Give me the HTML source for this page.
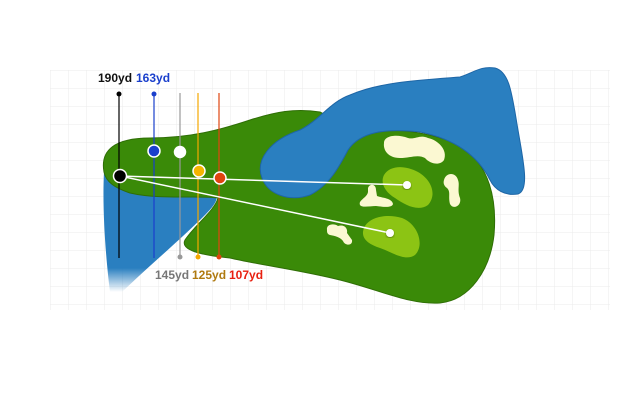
<!DOCTYPE html>
<html><head><style>body{margin:0;background:#fff}svg{display:block}</style></head><body>
<svg width="640" height="400" viewBox="0 0 640 400" xmlns="http://www.w3.org/2000/svg">
<defs>
<pattern id="g" width="18" height="18" patternUnits="userSpaceOnUse" x="50" y="70"><path d="M0 0H18M0 0V18" stroke="#e6e6e6" stroke-width="1" fill="none"/></pattern>
<linearGradient id="wf" x1="0" y1="0" x2="0" y2="1"><stop offset="0.8" stop-color="#2a7fc0"/><stop offset="1" stop-color="#2a7fc0" stop-opacity="0"/></linearGradient>
<filter id="sh"><feDropShadow dx="0" dy="1" stdDeviation="1" flood-opacity="0.4"/></filter>
</defs>
<rect x="50" y="70" width="560" height="240" fill="url(#g)" opacity="0.8"/>
<path d="M104,172 C102,210 106,260 110,292 L122,292 C150,265 180,240 205,215 C215,205 220,197 214,195 Z" fill="url(#wf)"/>
<path d="M104,172 C100,150 115,138 150,138 C190,138 220,130 250,120 C275,112 295,108 320,112 L360,133 C380,128 420,128 460,145 C490,165 497,200 494,235 C490,270 470,300 440,303 C410,305 380,290 340,280 C300,270 260,265 230,258 C200,255 180,250 185,240 C195,225 215,210 218,198 C200,195 160,200 130,193 C115,188 106,182 104,172 Z" fill="#3a8a08" stroke="#2f6e06" stroke-width="1"/>
<path d="M262,178 C255,160 270,140 300,130 C320,120 330,102 350,95 C380,82 420,80 460,77 C475,72 480,66 495,68 C510,72 512,95 518,130 C523,160 530,190 518,194 C505,196 495,190 490,180 C480,160 460,140 420,132 C385,128 360,132 348,150 C340,165 330,185 310,195 C290,202 268,195 262,178 Z" fill="#2a7fc0" stroke="#1e66a6" stroke-width="1"/>
<path d="M384,175 C390,165 405,165 418,172 C432,180 437,195 428,205 C418,212 405,205 395,198 C385,192 380,183 384,175 Z" fill="#8cc414"/>
<path d="M364,228 C368,218 385,213 402,218 C418,224 425,245 415,255 C405,262 392,252 380,248 C368,244 360,238 364,228 Z" fill="#8cc414"/>
<g fill="#fbf8d2">
<path d="M384,143 C384,135 398,134 408,138 C415,140 420,134 428,138 C438,140 448,150 444,160 C440,166 430,164 425,158 C418,154 410,158 400,158 C388,158 383,150 384,143Z"/>
<path d="M444,180 C446,172 456,172 458,180 C460,185 457,190 460,198 C462,206 453,210 450,204 C448,196 451,192 447,188 C444,186 443,183 444,180Z"/>
<path d="M368,188 C370,183 376,184 376,190 L377,196 C382,198 392,198 393,204 C392,208 384,207 376,206 C370,206 362,208 360,205 C358,200 367,198 368,192Z"/>
<path d="M327,230 C326,224 334,223 338,226 C344,224 348,228 347,233 L352,240 C353,246 345,246 343,241 C340,237 335,236 330,235 C327,234 327,232 327,230Z"/>
</g>
<g stroke-width="1.2">
<line x1="119" y1="94" x2="119" y2="258" stroke="#000"/>
<line x1="154" y1="94" x2="154" y2="258" stroke="#1a3fcc"/>
<line x1="180" y1="93" x2="180" y2="257" stroke="#999"/>
<line x1="198" y1="93" x2="198" y2="257" stroke="#f5a800"/>
<line x1="219" y1="93" x2="219" y2="257" stroke="#e04510"/>
</g>
<circle cx="119" cy="94" r="2.5" fill="#000"/>
<circle cx="154" cy="94" r="2.5" fill="#1a3fcc"/>
<circle cx="180" cy="257" r="2.5" fill="#999"/>
<circle cx="198" cy="257" r="2.5" fill="#f5a800"/>
<circle cx="219" cy="257" r="2.5" fill="#e04510"/>
<line x1="120" y1="176" x2="407" y2="185" stroke="#fff" stroke-width="1.5"/>
<line x1="120" y1="176" x2="390" y2="233" stroke="#fff" stroke-width="1.5"/>
<circle cx="407" cy="185" r="4" fill="#fff" filter="url(#sh)"/>
<circle cx="390" cy="233" r="4" fill="#fff" filter="url(#sh)"/>
<g stroke="#fff" stroke-width="1.5">
<circle cx="154" cy="151" r="6" fill="#1a3fcc"/>
<circle cx="180" cy="152" r="5.5" fill="#fff"/>
<circle cx="199" cy="171" r="6" fill="#f5b400"/>
<circle cx="220" cy="178" r="6" fill="#e04510"/>
<circle cx="120" cy="176" r="6.5" fill="#000"/>
</g>
<g font-family="Liberation Sans, sans-serif" font-weight="bold" font-size="12">
<text x="98" y="82" fill="#111">190yd</text>
<text x="136" y="82" fill="#1a3fcc">163yd</text>
<text x="155" y="279" fill="#777">145yd</text>
<text x="192" y="279" fill="#b07a10">125yd</text>
<text x="229" y="279" fill="#e82010">107yd</text>
</g>
</svg>
</body></html>
